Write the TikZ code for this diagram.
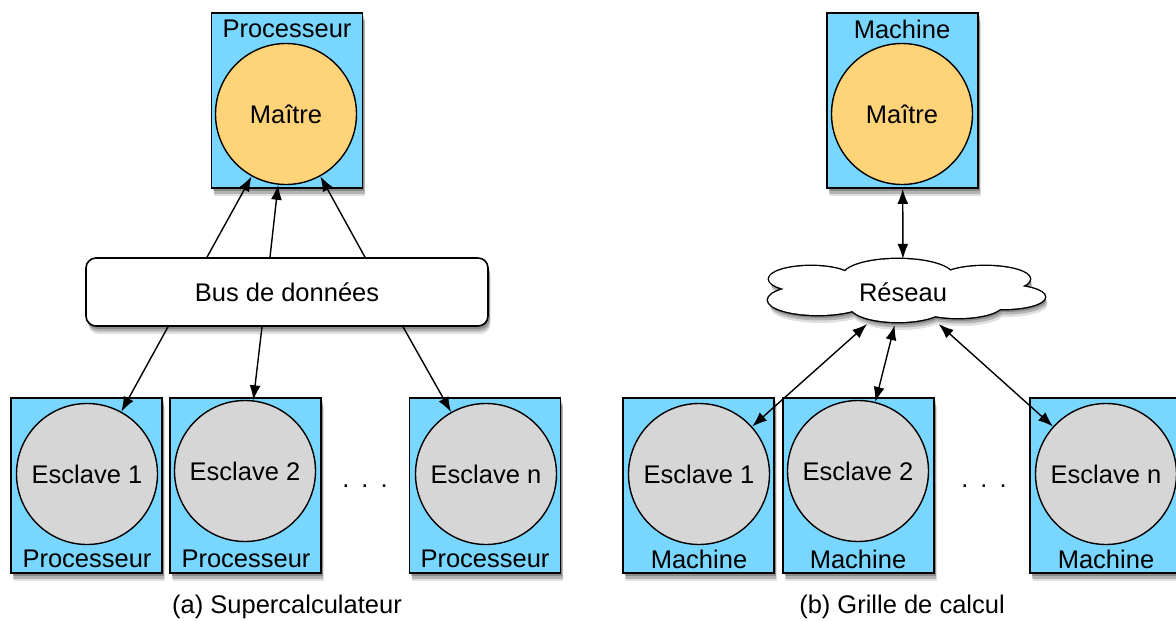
\documentclass[tikz,border=0pt]{standalone}
\usepackage{fontspec}
\setmainfont{Liberation Sans}
\usetikzlibrary{shapes.geometric,shadows,arrows.meta}
\definecolor{boxblue}{RGB}{120,214,255}
\definecolor{masterorange}{RGB}{255,212,121}
\definecolor{slavegrey}{RGB}{214,214,214}
\newcommand\netcloud{(-92,-13) ellipse [x radius=42pt, y radius=13pt]
  (-5,-16) ellipse [x radius=55pt, y radius=17pt]
  (82,-13) ellipse [x radius=45pt, y radius=13pt]
  (100,5) ellipse [x radius=42pt, y radius=12pt]
  (55,12) ellipse [x radius=45pt, y radius=14pt]
  (-5,14) ellipse [x radius=48pt, y radius=16pt]
  (-85,8) ellipse [x radius=50pt, y radius=15pt]
  (0,0) ellipse [x radius=100pt, y radius=20pt]}
\begin{document}
\begin{tikzpicture}[x=1pt,y=-1pt,
  font=\fontsize{25.5pt}{30pt}\selectfont,
  soft/.style={general shadow={shadow xshift=1.5pt,shadow yshift=-3pt,fill=black,opacity=0.22},
               general shadow={shadow xshift=2pt,shadow yshift=-5.5pt,fill=black,opacity=0.2},
               general shadow={shadow xshift=2.5pt,shadow yshift=-8pt,fill=black,opacity=0.12}},
  hostbox/.style={soft, draw=black, line width=1.8pt, fill=boxblue, minimum width=151pt, minimum height=175pt, inner sep=0pt},
  lbl/.style={inner sep=0pt},
  master/.style={circle, draw=black, line width=1.4pt, fill=masterorange, minimum size=141pt, inner sep=0pt},
  slave/.style={circle, draw=black, line width=1.4pt, fill=slavegrey, minimum size=141pt, inner sep=0pt},
  busbox/.style={soft, draw=black, line width=1.6pt, fill=white, rounded corners=10pt, minimum width=402pt, minimum height=68pt, inner sep=0pt},
  net/.style={ellipse, minimum width=267pt, minimum height=66pt, inner sep=0pt},
  arr/.style={line width=1.4pt, -{Latex[length=15pt,width=11pt]}},
  darr/.style={line width=1.4pt, {Latex[length=15pt,width=11pt]}-{Latex[length=15pt,width=11pt]}},
  dotsl/.style={inner sep=0pt, anchor=base},
  caption/.style={inner sep=0pt, anchor=base}
]
\clip (0,0) rectangle (1176,621);
\fill[white] (0,0) rectangle (1176,621);

% ---------- (a) Supercalculateur ----------
\node[hostbox] (pa) at (287,100.5) {};
\node[lbl] (pal) at (287,29) {Processeur};
\node[master] (ma) at (286,114) {Maître};

\node[busbox] (bus) at (287,292) {Bus de données};

\node[hostbox] (pa1) at (86.5,485.5) {};
\node[slave] (sa1) at (87,474) {Esclave 1};
\node[lbl] (pa1l) at (87,559) {Processeur};

\node[hostbox] (pa2) at (245.5,485.5) {};
\node[slave] (sa2) at (245,471) {Esclave 2};
\node[lbl] (pa2l) at (246,559) {Processeur};

\node[dotsl] (da) at (365,487) {.\hspace{12pt}.\hspace{12pt}.};

\node[hostbox] (pan) at (485,485.5) {};
\node[slave] (san) at (486,474) {Esclave n};
\node[lbl] (panl) at (485,559) {Processeur};

\draw[arr] ([xshift=-80pt]bus.north) -- (ma);
\draw[arr] ([xshift=-17pt]bus.north) -- (ma);
\draw[arr] ([xshift=78pt]bus.north) -- (ma);
\draw[arr] ([xshift=-119pt]bus.south) -- (sa1);
\draw[arr] ([xshift=-25pt]bus.south) -- (sa2);
\draw[arr] ([xshift=116pt]bus.south) -- (san);

\node[caption] (capa) at (287,613) {(a) Supercalculateur};

% ---------- (b) Grille de calcul ----------
\node[hostbox] (mb) at (902.5,100.5) {};
\node[lbl] (mbl) at (902,29) {Machine};
\node[master] (mab) at (902,114) {Maître};

% cloud outline (union of lobes)
\begin{scope}[shift={(903,292)}]
  \fill[black, opacity=0.12, shift={(2.5pt,-8pt)}] \netcloud;
  \fill[black, opacity=0.2, shift={(2pt,-5.5pt)}] \netcloud;
  \fill[black, opacity=0.22, shift={(1.5pt,-3pt)}] \netcloud;
  \draw[line width=2.8pt] \netcloud;
  \fill[white] \netcloud;
\end{scope}
\node[net] (net) at (903,292) {Réseau};

\node[hostbox] (mb1) at (698.5,485.5) {};
\node[slave] (sb1) at (699,474) {Esclave 1};
\node[lbl] (mb1l) at (699,559) {Machine};

\node[hostbox] (mb2) at (858.5,485.5) {};
\node[slave] (sb2) at (858,471) {Esclave 2};
\node[lbl] (mb2l) at (858,559) {Machine};

\node[dotsl] (db) at (984,487) {.\hspace{12pt}.\hspace{12pt}.};

\node[hostbox] (mbn) at (1105.5,485.5) {};
\node[slave] (sbn) at (1106,474) {Esclave n};
\node[lbl] (mbnl) at (1106,559) {Machine};

\draw[darr] (mb) -- (net);
\draw[darr] (net) -- (sb1);
\draw[darr] (net) -- (sb2);
\draw[darr] (net) -- (sbn);

\node[caption] (capb) at (902,613) {(b) Grille de calcul};
\end{tikzpicture}
\end{document}
